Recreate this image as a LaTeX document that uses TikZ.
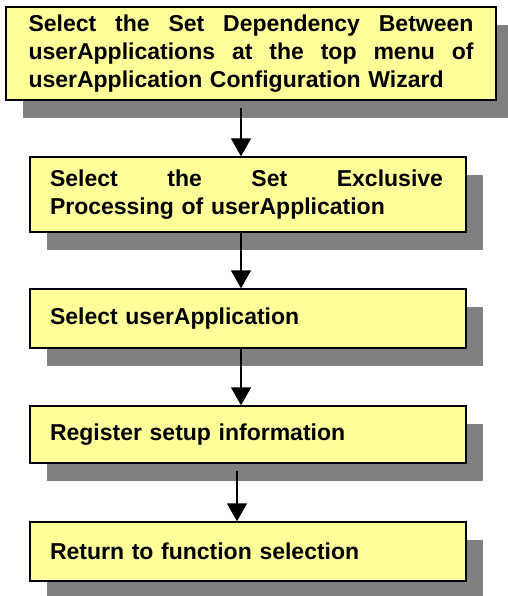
\documentclass[tikz,border=0pt]{standalone}
\usepackage{fontspec}
\setmainfont{Liberation Sans}
\usetikzlibrary{arrows.meta,shadows}
\definecolor{boxyellow}{RGB}{255,255,153}
\definecolor{shadowgray}{RGB}{128,128,128}
\begin{document}
\begin{tikzpicture}[x=1pt,y=1pt,
  stepbox/.style={draw=black, line width=1.4pt, fill=boxyellow, rectangle,
    drop shadow={shadow xshift=17pt, shadow yshift=-18pt, fill=shadowgray, opacity=1},
    font=\fontsize{23}{28}\selectfont\bfseries, align=left, inner ysep=0pt},
  arr/.style={line width=1.4pt, -{Triangle[width=20pt,length=18pt]}}]
\useasboundingbox (0,0) rectangle (507,-596);
\fill[white] (0,0) rectangle (507,-596);
\node[stepbox, text width=445pt, inner xsep=22.5pt, minimum height=93pt] (b1) at (251,-53.5)
  {\makebox[\linewidth][s]{Select\hfill the\hfill Set\hfill Dependency\hfill Between}\\
   \makebox[\linewidth][s]{userApplications\hfill at\hfill the\hfill top\hfill menu\hfill of}\\
   userApplication Configuration Wizard};
\node[stepbox, text width=396pt, inner xsep=20pt, minimum height=75pt] (b2) at (248,-194.5)
  {\makebox[393pt][s]{Select\hfill the\hfill Set\hfill Exclusive}\\
   Processing of userApplication};
\node[stepbox, text width=396pt, inner xsep=20pt, minimum height=59pt] (b3) at (248,-318.5)
  {Select userApplication};
\node[stepbox, text width=396pt, inner xsep=20pt, minimum height=57pt] (b4) at (248,-434.5)
  {Register setup information};
\node[stepbox, text width=396pt, inner xsep=20pt, minimum height=59pt] (b5) at (248,-551.5)
  {Return to function selection};
\draw[arr] ([xshift=-10pt,yshift=-7pt]b1.south) -- ([xshift=-7pt]b2.north);
\draw[arr] ([xshift=-7pt]b2.south) -- ([xshift=-7pt]b3.north);
\draw[arr] ([xshift=-7pt]b3.south) -- ([xshift=-7pt]b4.north);
\draw[arr] ([xshift=-11pt,yshift=-7pt]b4.south) -- ([xshift=-11pt]b5.north);
\end{tikzpicture}
\end{document}
